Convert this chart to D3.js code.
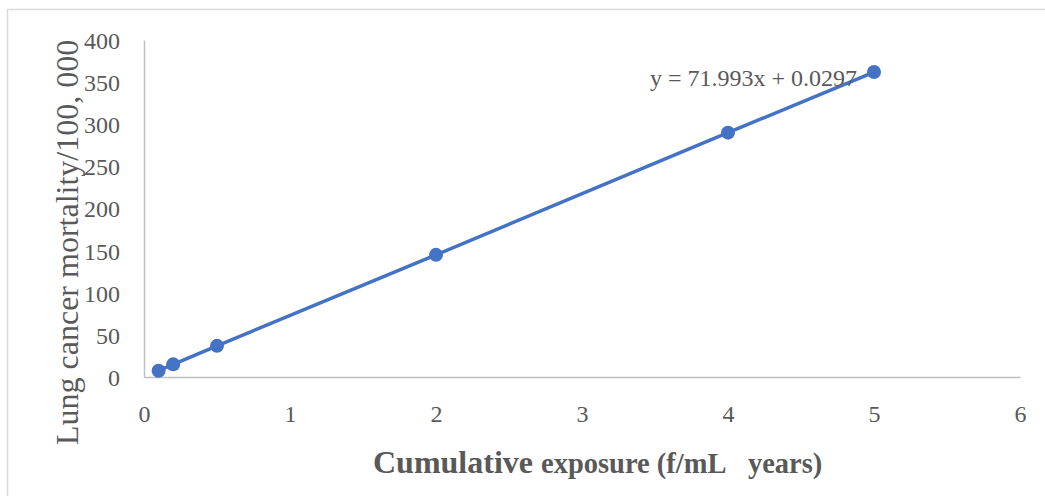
<!DOCTYPE html>
<html>
<head>
<meta charset="utf-8">
<script src="https://cdn.jsdelivr.net/npm/d3@7"></script>
<style>
  body { margin:0; background:#fff; }
  svg text { font-family:"Liberation Serif","Times New Roman",serif; fill:#595959; }
</style>
</head>
<body>
<div id="chart"></div>
<script>
// data
const exposure = [0.1, 0.2, 0.5, 2, 4, 5];
const mortality = [7.5, 15, 37, 145, 290, 362];
const xTicks = [0, 1, 2, 3, 4, 5, 6];
const yTicks = [0, 50, 100, 150, 200, 250, 300, 350, 400];
const equation = "y = 71.993x + 0.0297";

const W = 1045, H = 496;
const svg = d3.select("#chart").append("svg")
  .attr("width", W).attr("height", H);

// chart frame (runs off right/bottom edge)
svg.append("rect")
  .attr("x", 7.5).attr("y", 9.5)
  .attr("width", W).attr("height", H)
  .attr("fill", "none").attr("stroke", "#d9d9d9").attr("stroke-width", 1.5);

const x = d3.scaleLinear().domain([0, 6]).range([144, 1020]);
const y = d3.scaleLinear().domain([0, 400]).range([377, 40]);

// axes
const xAxis = svg.append("g").attr("transform", `translate(0,${y(0)})`)
  .call(d3.axisBottom(x).tickValues(xTicks).tickFormat(d3.format("d")).tickSize(0).tickPadding(28));
const yAxis = svg.append("g").attr("transform", `translate(${x(0)},0)`)
  .call(d3.axisLeft(y).tickValues(yTicks).tickSize(0).tickPadding(24));
[xAxis, yAxis].forEach(a => {
  a.select(".domain").attr("stroke", "#bfbfbf").attr("stroke-width", 1.5);
  a.selectAll("text").attr("font-size", 24)
    .attr("font-family", "Liberation Serif, serif").attr("fill", "#595959");
});
yAxis.selectAll("text").attr("dy", "0.35em");

// series line + markers
const pts = exposure.map((d, i) => ({x: d, y: mortality[i]}));
svg.append("path")
  .datum(pts)
  .attr("fill", "none")
  .attr("stroke", "#4472c4")
  .attr("stroke-width", 3.5)
  .attr("d", d3.line().x(d => x(d.x)).y(d => y(d.y)));
svg.selectAll("circle.pt")
  .data(pts).enter().append("circle")
  .attr("class", "pt")
  .attr("cx", d => x(d.x)).attr("cy", d => y(d.y))
  .attr("r", 7).attr("fill", "#4472c4");

// trendline equation
svg.append("text")
  .attr("x", 650).attr("y", 86)
  .attr("font-size", 24)
  .text(equation);

// y title
svg.append("text")
  .attr("transform", "translate(78,445) rotate(-90)")
  .attr("text-anchor", "start")
  .attr("font-size", 32)
  .text("Lung cancer mortality/100, 000");

// x title
const xt = svg.append("text")
  .attr("x", 373).attr("y", 473)
  .attr("font-weight", "bold");
xt.append("tspan").attr("font-size", 32).text("Cumulative ");
xt.append("tspan").attr("font-size", 28.5).text("exposure (f/mL\u00a0\u00a0\u00a0years)");
</script>
</body>
</html>
